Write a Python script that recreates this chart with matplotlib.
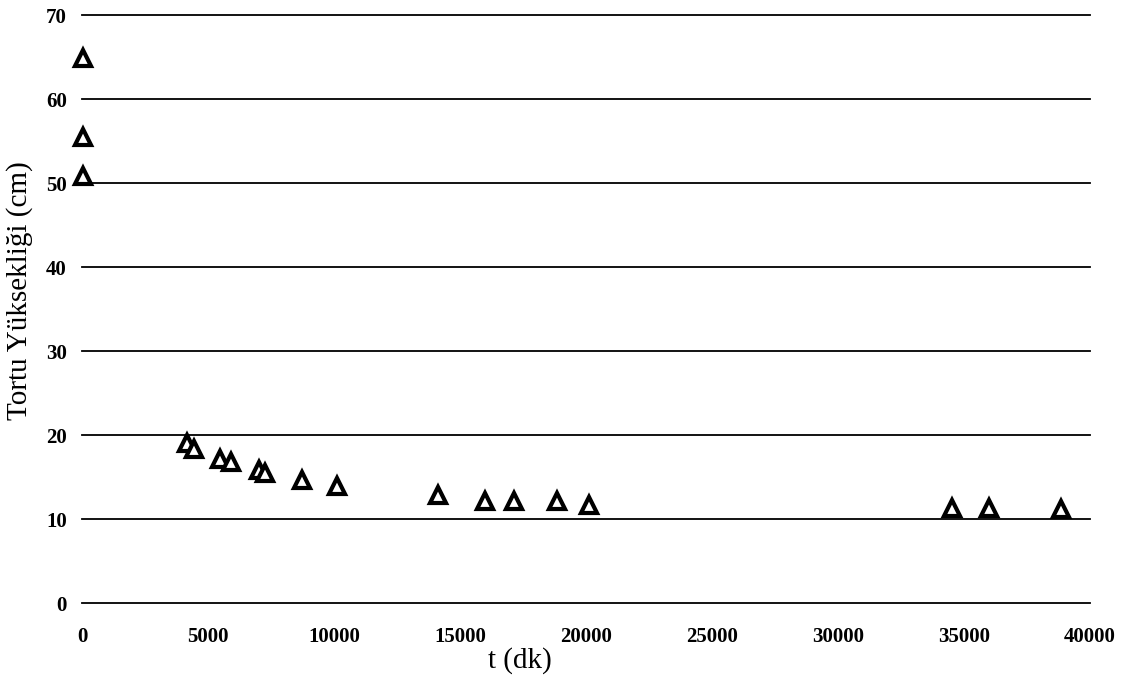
import numpy as np
import matplotlib
matplotlib.use('Agg')
import matplotlib.pyplot as plt

''' veriler: zaman (dk) ve tortu yuksekligi (cm) '''
t_dk = [40, 40, 40, 4150, 4420, 5480, 5900, 7000, 7260, 8720, 10100,
        14140, 15990, 17120, 18860, 20130, 34510, 36000, 38850]
h_cm = [64.9, 55.5, 50.9, 19.0, 18.3, 17.2, 16.8, 15.8, 15.5, 14.6, 13.9,
        12.9, 12.2, 12.1, 12.1, 11.7, 11.3, 11.3, 11.2]

x_ticks = [0, 5000, 10000, 15000, 20000, 25000, 30000, 35000, 40000]
y_ticks = [0, 10, 20, 30, 40, 50, 60, 70]

plt.rcParams['font.family'] = ['Liberation Serif', 'DejaVu Serif']

fig = plt.figure(figsize=(11.25, 6.9), dpi=100)
ax = fig.add_axes([0.073, 0.126, 0.896, 0.852])

''' yatay cizgiler '''
for y in y_ticks:
	ax.axhline(y, color='black', lw=1.3, zorder=1, clip_on=False)

ax.plot(t_dk, h_cm, lw=0, marker='^', ms=11, mfc='white', mec='black',
        mew=3.0, zorder=3, clip_on=False)

ax.set_xlim(0, 40000)
ax.set_ylim(0, 70)
ax.set_xticks(x_ticks)
ax.set_yticks(y_ticks)
ax.set_xticklabels([str(v) for v in x_ticks], fontsize=15, fontweight='bold')
ax.set_yticklabels([str(v) for v in y_ticks], fontsize=15, fontweight='bold')
ax.tick_params(length=0)
ax.tick_params(axis='x', pad=17)
ax.tick_params(axis='y', pad=11)
for s in ax.spines.values():
	s.set_visible(False)

ax.set_xlabel('t (dk)', fontsize=21)
ax.xaxis.set_label_coords(0.434, -0.075)
ax.set_ylabel('Tortu Yüksekliği (cm)', fontsize=21)
ax.yaxis.set_label_coords(-0.049, 0.531)

fig.savefig('out.png', dpi=100)
